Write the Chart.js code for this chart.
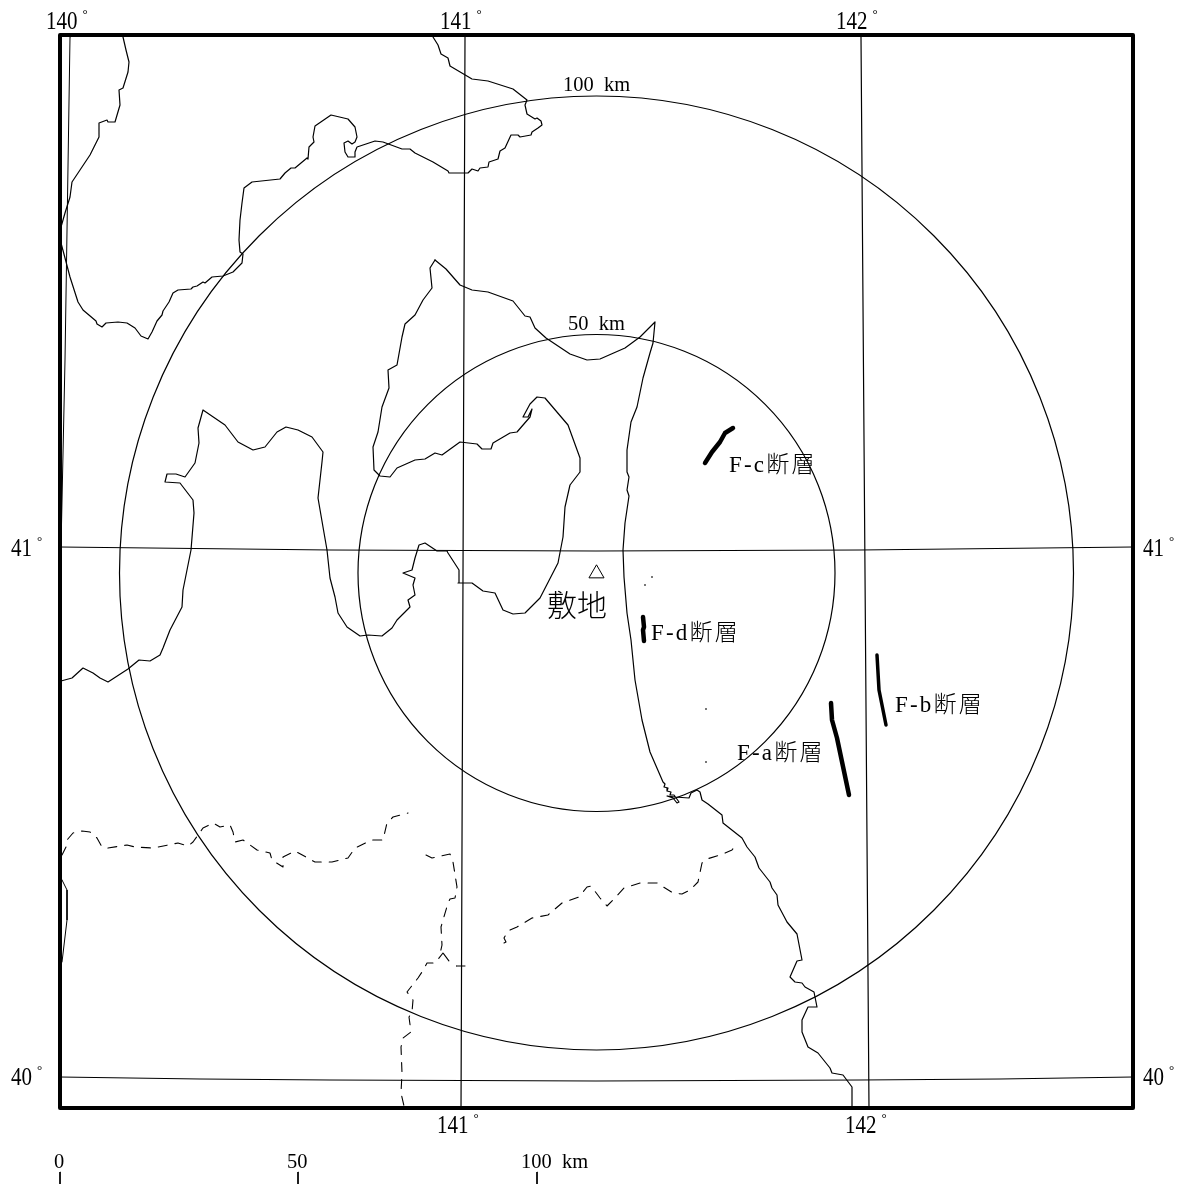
<!DOCTYPE html>
<html>
<head>
<meta charset="utf-8">
<style>
    html, body { margin: 0; padding: 0; background: #ffffff; }
    canvas { display: block; }
</style>
<script src="https://cdn.jsdelivr.net/npm/chart.js@4/dist/chart.umd.min.js"></script>
</head>
<body>
<canvas id="mapChart" width="1183" height="1184"></canvas>
<script>
// All map values are [x, y], in sheet units
const coastNorth = [[123,37],[126,50],[129,62],[128,72],[123,88],[119,90],[120,105],[115,122],[108,122],[107,120],[99,123],[99,137],[90,155],[80,170],[72,182],[70,197],[65,213],[61,227],[61,243],[65,258],[70,277],[78,302],[83,310],[96,321],[97,324],[102,327],[106,323],[118,322],[127,323],[135,328],[141,336],[148,339],[152,332],[157,321],[162,315],[163,311],[169,302],[173,293],[178,290],[191,289],[193,287],[197,286],[203,282],[205,283],[212,277],[223,276],[233,272],[242,263],[243,254],[240,252],[239,240],[240,220],[242,203],[244,188],[252,182],[280,179],[285,173],[291,168],[295,168],[307,158],[308,159],[309,147],[314,142],[313,137],[315,126],[331,115],[348,119],[355,127],[357,137],[355,142],[352,144],[348,141],[344,143],[345,152],[348,157],[355,157],[355,152],[357,147],[375,141],[383,142],[402,149],[410,149],[415,153],[433,162],[448,171],[449,173],[463,173],[468,173],[472,169],[478,171],[480,168],[488,167],[489,162],[498,159],[500,151],[505,148],[511,135],[518,135],[520,137],[531,135],[532,132],[538,128],[542,125],[541,121],[537,118],[535,119],[527,114],[525,105],[527,100],[513,89],[488,81],[472,79],[450,66],[448,58],[441,54],[438,45],[433,37]];
const coastPacific = [[435,260],[446,269],[460,285],[472,290],[488,292],[513,301],[525,316],[530,317],[535,328],[546,338],[570,354],[587,360],[600,359],[625,348],[640,337],[655,322],[653,343],[650,353],[643,378],[637,407],[631,422],[627,450],[627,472],[629,477],[627,490],[629,496],[625,523],[623,550],[624,577],[627,613],[631,640],[635,680],[642,720],[650,752],[663,782],[665,784],[664,787],[668,788],[667,791],[671,792],[670,795],[674,795],[679,802],[677,803],[673,798],[667,796],[675,797],[689,798],[691,793],[697,790],[700,792],[702,800],[708,804],[722,815],[723,823],[742,838],[747,847],[755,857],[759,868],[770,882],[772,888],[777,895],[778,905],[787,922],[797,934],[802,960],[797,961],[790,977],[795,982],[802,983],[805,987],[814,992],[817,1007],[808,1007],[802,1020],[802,1032],[808,1047],[818,1053],[830,1068],[832,1073],[843,1075],[852,1087],[852,1107]];
const coastBay = [[435,260],[430,268],[432,288],[423,300],[415,315],[405,324],[402,337],[397,365],[388,370],[389,388],[382,407],[378,432],[373,447],[374,470],[380,476],[390,477],[397,468],[415,460],[425,459],[435,453],[442,455],[460,442],[477,444],[482,449],[491,449],[493,443],[510,433],[517,432],[530,417],[532,409],[528,417],[523,417],[530,404],[537,397],[545,398],[568,425],[580,458],[580,472],[570,485],[565,507],[563,537],[558,563],[540,598],[525,613],[513,614],[503,610],[495,593],[483,591],[472,583],[458,583],[459,570],[448,553],[447,551],[437,551],[425,543],[419,545],[415,558],[412,570],[403,573],[415,578],[413,585],[415,595],[408,600],[410,607],[397,620],[392,628],[382,636],[368,635],[360,636],[347,627],[338,613],[335,597],[330,578],[327,550],[323,527],[318,498],[322,462],[323,452],[312,437],[298,430],[286,427],[277,432],[265,447],[253,450],[238,442],[225,425],[203,410],[198,428],[199,443],[195,463],[185,477],[176,474],[167,474],[165,482],[180,483],[193,500],[194,513],[191,550],[183,590],[182,607],[170,630],[163,648],[160,655],[150,661],[139,660],[128,669],[108,682],[100,678],[93,673],[83,668],[72,678],[61,681]];
const coastEdge = [[62,880],[67,890],[67,920],[62,962]];

const borderWest = [[62,855],[66,847],[67,840],[73,833],[82,831],[90,832],[97,838],[102,847],[108,848],[127,845],[135,847],[153,848],[178,843],[188,846],[193,842],[203,828],[213,823],[220,827],[230,825],[233,832],[235,842],[243,840],[257,850],[270,853],[272,860],[283,867],[283,857],[295,851],[315,862],[332,862],[348,858],[355,848],[372,840],[383,840],[387,823],[393,817],[408,813]];
const borderSouth = [[426,855],[432,858],[450,854],[453,862],[457,887],[455,898],[450,899],[448,903],[441,927],[442,945],[440,954],[443,953],[449,961],[443,953],[435,963],[427,963],[422,972],[418,978],[407,992],[413,1000],[412,1012],[409,1017],[411,1032],[403,1038],[401,1047],[402,1073],[401,1093],[404,1106]];
const borderEast = [[504,943],[506,942],[504,938],[508,931],[517,927],[532,918],[548,915],[562,903],[579,897],[587,887],[591,886],[600,898],[607,906],[613,900],[624,888],[640,883],[657,883],[673,893],[682,894],[690,890],[698,882],[702,863],[707,859],[723,854],[732,850],[737,843]];
const borderTick = [[456,966],[465,966]];

const meridian140 = [[70,37],[65,360],[61,548]];
const meridian141 = [[465,37],[461,1107]];
const meridian142 = [[861,37],[869,1107]];
const parallel41 = [[60,547],[330,550],[596,551],[860,550],[1133,547]];
const parallel40 = [[60,1077],[200,1079],[330,1080],[596,1081],[860,1080],[1000,1079],[1133,1077]];

const faultA = [[831,703],[832,720],[837,738],[841,757],[849,795]];
const faultB = [[877,655],[879,690],[886,725]];
const faultC = [[733,428],[725,433],[720,442],[712,452],[705,463]];
const faultD = [[643,617],[644,627],[643,630],[644,641]];

const siteMark = [[596.5,573.5]];
const islets = [[652,577],[645,585],[706,709],[706,762]];
const frameCorners = [[60,35],[1133,35],[1133,1108],[60,1108],[60,35]];

const ringCentre = [[596.5,573]];
const ringKm = [100, 50];
const scaleKm = [0, 50, 100];
const scaleTickX = [60, 298, 537];

const scaleLabels = ['0', '50', '100  km'];
const ringLabels = ['100  km', '50  km'];
const faultLabels = ['F-a断層', 'F-b断層', 'F-c断層', 'F-d断層'];
const siteLabel = '敷地';
const degreeLabels = ['140', '141', '142', '41', '41', '40', '40', '141', '142'];

const toPoints = (pairs) => pairs.map(p => ({ x: p[0], y: p[1] }));

function line(pairs, width, dash) {
    return {
        data: toPoints(pairs),
        showLine: true,
        borderColor: '#000000',
        borderWidth: width,
        borderDash: dash || [],
        borderCapStyle: 'round',
        borderJoinStyle: 'round',
        pointRadius: 0,
        tension: 0
    };
}

function ring(km) {
    return {
        data: toPoints(ringCentre),
        showLine: false,
        pointStyle: 'circle',
        pointBackgroundColor: 'transparent',
        pointBorderColor: '#000000',
        pointBorderWidth: 1.2,
        pointRadius: (ctx) => {
            const xs = ctx.chart.scales.x;
            const perKm = (xs.getPixelForValue(scaleTickX[2]) - xs.getPixelForValue(scaleTickX[0])) / scaleKm[2];
            return km * perKm;
        }
    };
}

const datasets = [
    line(meridian140, 1), line(meridian141, 1.2), line(meridian142, 1.2),
    line(parallel41, 1.2), line(parallel40, 1.2),
    line(coastNorth, 1.2), line(coastPacific, 1.2), line(coastBay, 1.2), line(coastEdge, 1),
    line(borderWest, 1.1, [9, 8]), line(borderSouth, 1.1, [9, 8]), line(borderEast, 1.1, [9, 8]),
    line(borderTick, 1),
    ring(ringKm[0]), ring(ringKm[1]),
    line(faultA, 4.5), line(faultB, 3.5), line(faultC, 4.5), line(faultD, 4.5),
    {
        data: toPoints(siteMark),
        showLine: false,
        pointStyle: 'triangle',
        pointRadius: 8.7,
        pointBackgroundColor: 'transparent',
        pointBorderColor: '#000000',
        pointBorderWidth: 1
    },
    {
        data: toPoints(islets),
        showLine: false,
        pointStyle: 'rect',
        pointRadius: 1,
        pointBorderWidth: 0,
        pointBackgroundColor: '#000000'
    },
    line(frameCorners, 4)
];

scaleTickX.forEach(x => datasets.push(line([[x, 1172], [x, 1184]], 1)));

const LATIN = '"Liberation Serif"';
const CJK = '"Liberation Serif", "Noto Sans CJK JP"';

// Draws the sheet lettering at sheet positions through the chart's scales
const mapText = {
    id: 'mapText',
    afterDatasetsDraw(chart) {
        const { ctx, scales } = chart;
        const put = (text, x, y, font, squeeze, spacing) => {
            ctx.save();
            ctx.translate(scales.x.getPixelForValue(x), scales.y.getPixelForValue(y));
            ctx.scale(squeeze || 1, 1);
            ctx.font = font;
            ctx.letterSpacing = spacing || '0px';
            ctx.fillText(text, 0, 0);
            ctx.restore();
        };
        ctx.save();
        ctx.fillStyle = '#000000';
        ctx.textAlign = 'left';
        ctx.textBaseline = 'alphabetic';

        const degreeAt = [[46,29],[440,29],[836,29],[11,556],[1143,556],[11,1085],[1143,1085],[437,1133],[845,1133]];
        degreeLabels.forEach((t, i) => {
            const [x, y] = degreeAt[i];
            put(t, x, y, '25px ' + LATIN, 0.84);
            put('°', x + t.length * 10.5 + 5, y - 11, '13px ' + LATIN);
        });

        put(ringLabels[0], 563, 91, '22px ' + LATIN, 0.93);
        put(ringLabels[1], 568, 330, '22px ' + LATIN, 0.93);

        put(scaleLabels[0], 54, 1168, '22px ' + LATIN, 0.93);
        put(scaleLabels[1], 287, 1168, '22px ' + LATIN, 0.93);
        put(scaleLabels[2], 521, 1168, '22px ' + LATIN, 0.93);

        const faultAt = [[737,760],[895,712],[729,472],[651,640]];
        faultLabels.forEach((t, i) => {
            put(t, faultAt[i][0], faultAt[i][1], '300 23px ' + CJK, 1, '2.2px');
        });
        put(siteLabel, 547, 616, '300 30px ' + CJK);
        ctx.restore();
    }
};

new Chart(document.getElementById('mapChart').getContext('2d'), {
    type: 'scatter',
    data: { datasets: datasets },
    plugins: [mapText],
    options: {
        responsive: false,
        animation: false,
        devicePixelRatio: 1,
        layout: { padding: 0, autoPadding: false },
        plugins: {
            legend: { display: false },
            tooltip: { enabled: false }
        },
        scales: {
            x: { type: 'linear', min: 0, max: 1183, display: false },
            y: { type: 'linear', min: 0, max: 1184, reverse: true, display: false }
        }
    }
});
</script>
</body>
</html>
